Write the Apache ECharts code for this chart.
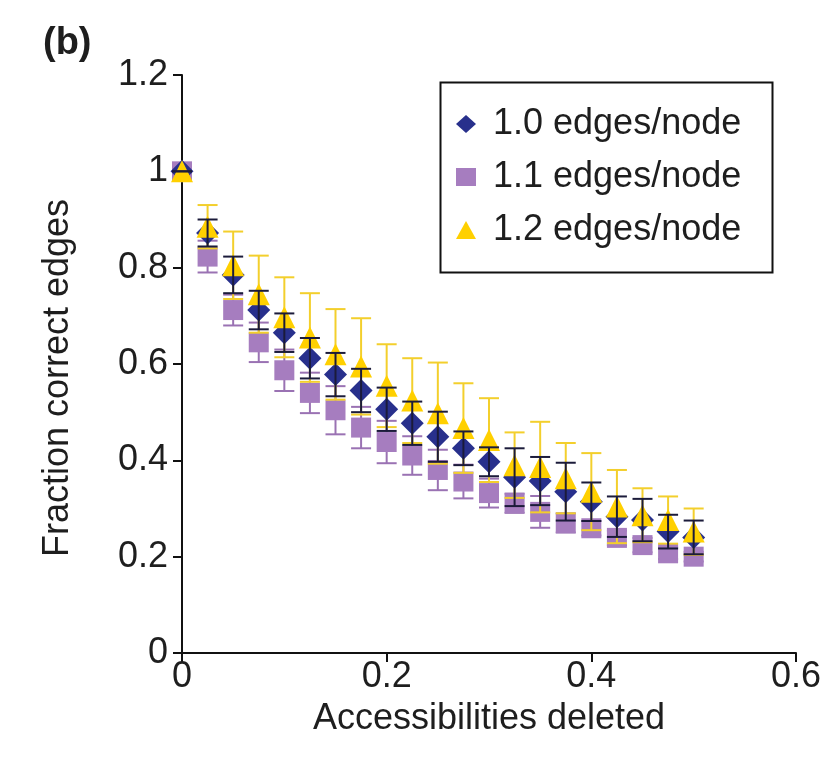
<!DOCTYPE html>
<html>
<head>
<meta charset="utf-8">
<script src="https://cdn.jsdelivr.net/npm/echarts@6/dist/echarts.min.js"></script>
<style>
	html, body { margin: 0; padding: 0; background: #fff; }
	#chart { width: 831px; height: 758px; }
</style>
</head>
<body>
<div id="chart"></div>
<script>
	/* fraction of deleted accessibilities (x) */
	var deleted = [0, 0.025, 0.05, 0.075, 0.1, 0.125, 0.15, 0.175, 0.2, 0.225, 0.25,
		0.275, 0.3, 0.325, 0.35, 0.375, 0.4, 0.425, 0.45, 0.475, 0.5];

	/* 1.0 edges/node */
	var edges10 = [1.0, 0.872, 0.785, 0.712, 0.665, 0.612, 0.578, 0.545, 0.506, 0.477, 0.449,
		0.425, 0.397, 0.365, 0.357, 0.335, 0.314, 0.283, 0.276, 0.252, 0.24];
	var edges10Err = [0, 0.028, 0.038, 0.04, 0.04, 0.042, 0.045, 0.045, 0.045, 0.045, 0.052,
		0.035, 0.03, 0.06, 0.05, 0.06, 0.04, 0.042, 0.044, 0.035, 0.035];

	/* 1.1 edges/node */
	var edges11 = [1.0, 0.823, 0.712, 0.645, 0.587, 0.54, 0.504, 0.468, 0.438, 0.41, 0.38,
		0.356, 0.332, 0.311, 0.293, 0.27, 0.259, 0.239, 0.224, 0.207, 0.2];
	var edges11Err = [0, 0.033, 0.032, 0.041, 0.043, 0.042, 0.05, 0.043, 0.044, 0.04, 0.042,
		0.035, 0.03, 0.02, 0.033, 0.02, 0.015, 0.015, 0.015, 0.012, 0.01];

	/* 1.2 edges/node */
	var edges12 = [1.0, 0.885, 0.805, 0.745, 0.697, 0.655, 0.62, 0.595, 0.555, 0.524, 0.498,
		0.467, 0.442, 0.39, 0.386, 0.363, 0.335, 0.304, 0.286, 0.276, 0.252];
	var edges12Err = [0, 0.045, 0.07, 0.08, 0.083, 0.092, 0.094, 0.1, 0.086, 0.088, 0.105,
		0.093, 0.087, 0.068, 0.094, 0.073, 0.08, 0.076, 0.056, 0.049, 0.048];

	var seriesNames = ["1.0 edges/node", "1.1 edges/node", "1.2 edges/node"];
	var xTicks = ["0", "0.2", "0.4", "0.6"];

	var FONT = "Liberation Sans";
	var TEXT = "#1e1e1e";

	function points(values) {
		return deleted.map(function(x, i) { return [x, values[i]]; });
	}

	function errData(values, errs) {
		return deleted.map(function(x, i) { return [x, values[i] - errs[i], values[i] + errs[i]]; });
	}

	function errorBars(name, values, errs, color, z) {
		return {
			name : name,
			type : "custom",
			z : z,
			data : errData(values, errs),
			renderItem : function(params, api) {
				var lo = api.coord([api.value(0), api.value(1)]);
				var hi = api.coord([api.value(0), api.value(2)]);
				var half = 10;
				var style = { stroke : color, lineWidth : 2 };
				return {
					type : "group",
					children : [
						{ type : "line", shape : { x1 : lo[0], y1 : lo[1], x2 : hi[0], y2 : hi[1] }, style : style },
						{ type : "line", shape : { x1 : lo[0] - half, y1 : lo[1], x2 : lo[0] + half, y2 : lo[1] }, style : style },
						{ type : "line", shape : { x1 : hi[0] - half, y1 : hi[1], x2 : hi[0] + half, y2 : hi[1] }, style : style }
					]
				};
			}
		};
	}

	var chart = echarts.init(document.getElementById("chart"));
	chart.setOption({
		animation : false,
		textStyle : { fontFamily : FONT, color : TEXT },
		title : {
			text : "(b)",
			left : 38,
			top : 20,
			textStyle : { fontFamily : FONT, fontSize : 38, fontWeight : "bold", color : TEXT }
		},
		grid : { left : 182, right : 35, top : 75, bottom : 105 },
		legend : {
			orient : "vertical",
			left : 456,
			top : 104,
			padding : 0,
			itemGap : 13,
			itemWidth : 20,
			itemHeight : 18,
			symbolKeepAspect : true,
			data : seriesNames,
			textStyle : { fontFamily : FONT, fontSize : 36, color : TEXT, lineHeight : 40, padding : [0, 0, 0, 12] }
		},
		graphic : [ {
			type : "rect",
			left : 438,
			top : 80,
			shape : { width : 332, height : 190 },
			style : { fill : "none", stroke : "#111", lineWidth : 2 }
		} ],
		xAxis : {
			type : "value",
			min : 0,
			max : 0.6,
			interval : 0.2,
			name : "Accessibilities deleted",
			nameLocation : "middle",
			nameGap : 48,
			nameTextStyle : { fontFamily : FONT, fontSize : 36, color : TEXT },
			axisLine : { lineStyle : { color : "#111", width : 2 } },
			axisTick : { show : true, length : 9, lineStyle : { color : "#111", width : 2 } },
			axisLabel : {
				fontSize : 36, color : TEXT, margin : 6,
				formatter : function(v) { return xTicks[Math.round(v / 0.2)]; }
			},
			splitLine : { show : false }
		},
		yAxis : {
			type : "value",
			min : 0,
			max : 1.2,
			interval : 0.2,
			name : "Fraction correct edges",
			nameLocation : "middle",
			nameGap : 106,
			nameTextStyle : { fontFamily : FONT, fontSize : 36, color : TEXT, padding : [0, 28, 0, 0] },
			axisLine : { show : true, lineStyle : { color : "#111", width : 2 } },
			axisTick : { show : true, length : 9, lineStyle : { color : "#111", width : 2 } },
			axisLabel : { fontSize : 36, color : TEXT, margin : 14 },
			splitLine : { show : false }
		},
		series : [
			errorBars("err11", edges11, edges11Err, "#9a72b3", 2),
			{
				name : seriesNames[1], type : "scatter", z : 3, symbol : "rect", symbolSize : 20,
				itemStyle : { color : "#a67dbf", opacity : 1 }, data : points(edges11), clip : false
			},
			errorBars("err12", edges12, edges12Err, "#f3cf2c", 4),
			{
				name : seriesNames[0], type : "scatter", z : 5, symbol : "diamond", symbolSize : 23,
				itemStyle : { color : "#28308c", opacity : 1 }, data : points(edges10), clip : false
			},
			{
				name : seriesNames[2], type : "scatter", z : 6, symbol : "triangle", symbolSize : 22,
				itemStyle : { color : "#ffd000", opacity : 1 }, data : points(edges12), clip : false
			},
			errorBars("err10", edges10, edges10Err, "#1b1b3a", 7)
		]
	});
</script>
</body>
</html>
